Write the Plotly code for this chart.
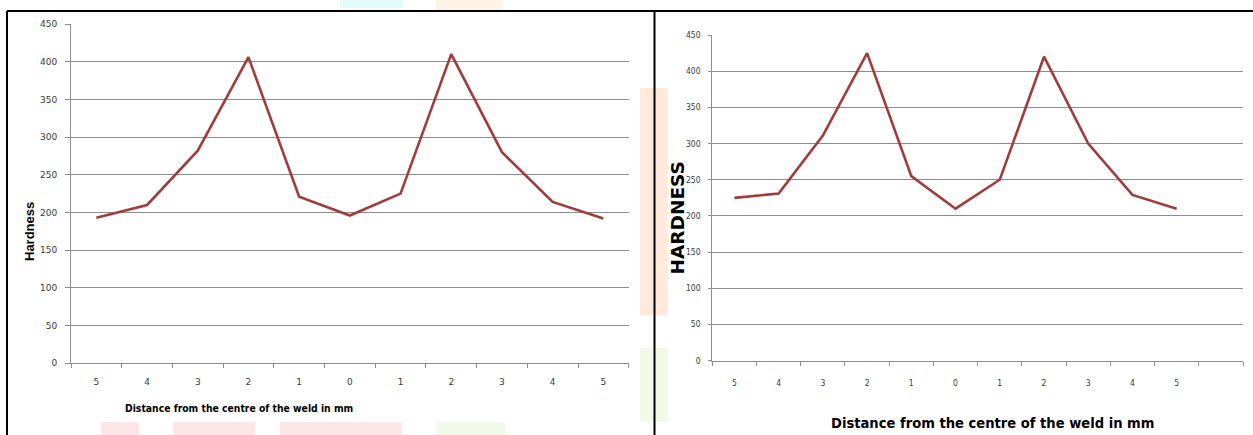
import plotly.graph_objects as go

W, H = 1253, 435

# ---- data ----
distance_labels = ["5", "4", "3", "2", "1", "0", "1", "2", "3", "4", "5"]
hardness_left = [193, 210, 282, 406, 221, 196, 225, 410, 280, 214, 192]
hardness_right = [225, 231, 311, 425, 255, 210, 250, 420, 300, 229, 210]
y_ticks = [0, 50, 100, 150, 200, 250, 300, 350, 400, 450]

x_title = "Distance from the centre of the weld in mm"

LINE = "#A03C3A"
GRID = "#8C8C8C"
TXT = "#3A3A3A"
NARROW = "Liberation Sans Narrow, DejaVu Sans Condensed, Arial Narrow, sans-serif"


def px(x):
    return x / W


def py(y):
    return 1 - y / H


xpos = list(range(len(distance_labels)))

fig = go.Figure()
fig.add_trace(go.Scatter(x=xpos, y=hardness_left, mode="lines",
                         line=dict(color=LINE, width=2.6), xaxis="x", yaxis="y",
                         showlegend=False, hoverinfo="skip"))
fig.add_trace(go.Scatter(x=xpos, y=hardness_right, mode="lines",
                         line=dict(color=LINE, width=2.6), xaxis="x2", yaxis="y2",
                         showlegend=False, hoverinfo="skip"))

left_font = dict(family="DejaVu Sans, Verdana, sans-serif", size=9, color=TXT)
right_font = dict(family=NARROW, size=8.5, color=TXT)

n = len(distance_labels)

fig.update_layout(
    width=W, height=H,
    autosize=False,
    margin=dict(l=0, r=0, t=0, b=0, pad=0, autoexpand=False),
    paper_bgcolor="white",
    plot_bgcolor="rgba(0,0,0,0)",
    xaxis=dict(domain=[px(71), px(628.7)], range=[-0.5, n - 0.5],
               tickvals=xpos, ticktext=distance_labels, ticks="",
               tickfont=left_font, showgrid=False, zeroline=False,
               showline=True, linecolor=GRID, linewidth=1,
               minor=dict(ticks="outside", ticklen=4, tickcolor=GRID,
                          tickvals=[i - 0.5 for i in range(n + 1)], showgrid=False),
               anchor="y", ticklabelstandoff=10, fixedrange=True, automargin=False),
    yaxis=dict(domain=[py(363.3), py(24)], range=[0, 450],
               tickvals=y_ticks, ticks="outside", ticklen=5, tickcolor=GRID,
               tickfont=left_font, showgrid=True, gridcolor=GRID, gridwidth=1,
               zeroline=False, showline=True, linecolor=GRID, linewidth=1,
               anchor="x", ticklabelstandoff=6, fixedrange=True, automargin=False),
    xaxis2=dict(domain=[px(712.3), px(1243)], range=[-0.5, n + 0.5],
                tickvals=xpos, ticktext=distance_labels, ticks="",
                tickfont=right_font, showgrid=False, zeroline=False,
                showline=True, linecolor=GRID, linewidth=1,
                minor=dict(ticks="outside", ticklen=4, tickcolor=GRID,
                           tickvals=[i - 0.5 for i in range(n + 2)], showgrid=False),
                anchor="y2", ticklabelstandoff=14, fixedrange=True, automargin=False),
    yaxis2=dict(domain=[py(360.7), py(35)], range=[0, 450],
                tickvals=y_ticks, ticks="outside", ticklen=3, tickcolor=GRID,
                tickfont=right_font, showgrid=True, gridcolor=GRID, gridwidth=1,
                zeroline=False, showline=True, linecolor=GRID, linewidth=1,
                anchor="x2", ticklabelstandoff=6, fixedrange=True, automargin=False),
)

# axis titles
ann_common = dict(xref="paper", yref="paper", showarrow=False,
                  xanchor="center", yanchor="middle")
fig.add_annotation(text="<b>Hardness</b>", x=px(29), y=py(232), textangle=-90,
                   font=dict(family="Liberation Sans, Arial, sans-serif", size=13, color="black"),
                   **ann_common)
fig.add_annotation(text="<b>HARDNESS</b>", x=px(677), y=py(218.5), textangle=-90,
                   font=dict(family="DejaVu Sans, sans-serif", size=18.5, color="black"),
                   **ann_common)
fig.add_annotation(text="<b>" + x_title + "</b>", x=px(238.5), y=py(408),
                   font=dict(family=NARROW, size=10.3, color="black"), **ann_common)
fig.add_annotation(text="<b>" + x_title + "</b>", x=px(992), y=py(422),
                   font=dict(family=NARROW, size=14.6, color="black"), **ann_common)

# faint watermark blobs of the source document
blobs = [
    (340, 0, 403, 8, "#E3FBFC"),
    (436, 0, 503, 10, "#FFF3E6"),
    (640, 88, 668, 315, "#FFEADC"),
    (640, 348, 668, 422, "#F1FAE8"),
    (101, 422, 139, 435, "#FFE6E6"),
    (173, 422, 255, 435, "#FFE6E6"),
    (280, 422, 402, 435, "#FFE6E6"),
    (436, 422, 505, 435, "#F1FAE8"),
]
for x0, y0, x1, y1, c in blobs:
    fig.add_shape(type="rect", xref="paper", yref="paper", x0=px(x0), x1=px(x1),
                  y0=py(y1), y1=py(y0), fillcolor=c, line=dict(width=0), layer="below")

# document frame lines
frame = [
    (7, 11, 1253, 11),
    (7, 11, 7, 435),
    (654.5, 11, 654.5, 435),
]
for x0, y0, x1, y1 in frame:
    fig.add_shape(type="line", xref="paper", yref="paper", x0=px(x0), x1=px(x1),
                  y0=py(y0), y1=py(y1), line=dict(color="black", width=2))

fig.write_html("out.html",
               config={"displayModeBar": False},
               post_script="document.body.style.margin='0';document.body.style.padding='0';")
